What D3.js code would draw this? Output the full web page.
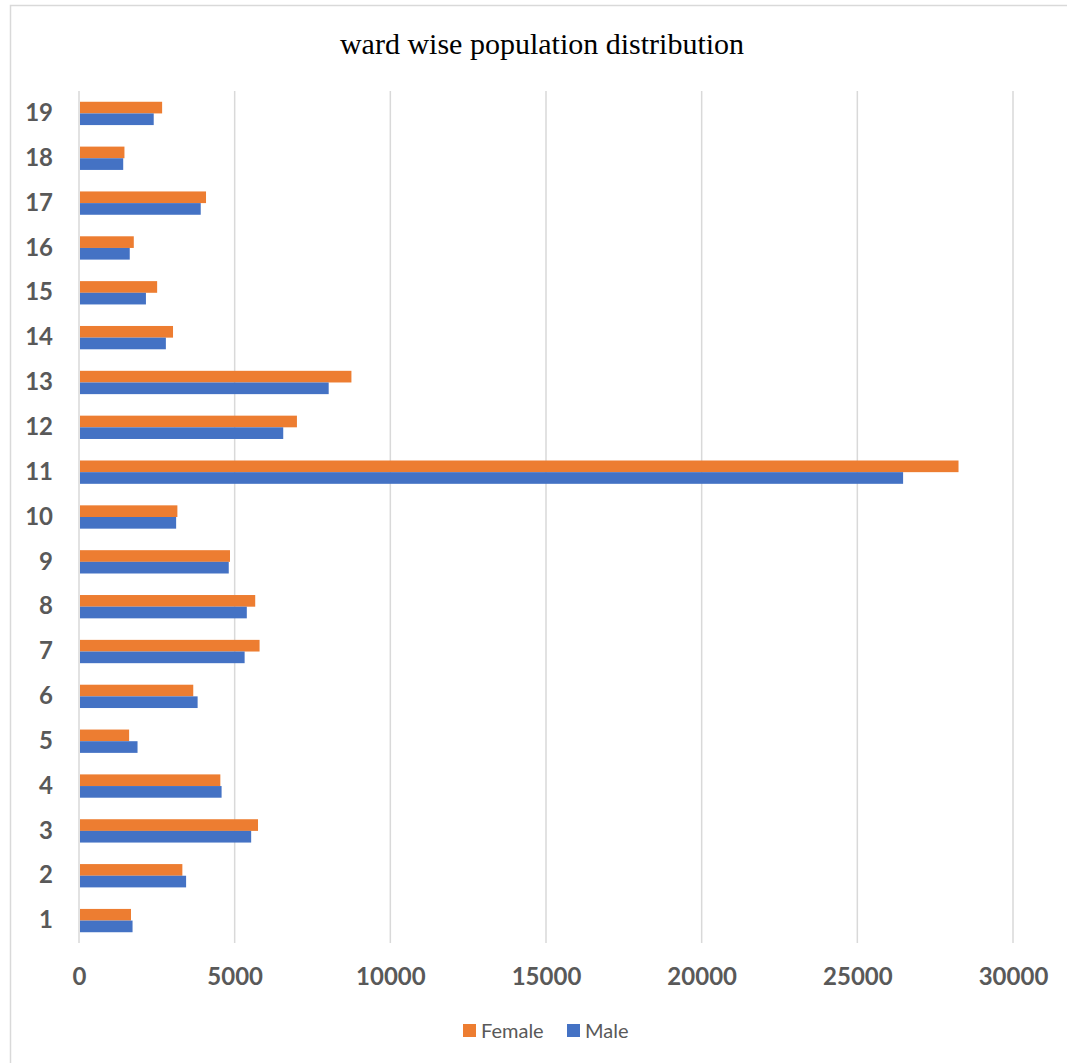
<!DOCTYPE html>
<html>
<head>
<meta charset="utf-8">
<script src="https://cdn.jsdelivr.net/npm/d3@7"></script>
<style>
  body { margin: 0; background: #fff; }
</style>
</head>
<body>
<div id="chart"></div>
<script>
// Data
const wards = ["1","2","3","4","5","6","7","8","9","10","11","12","13","14","15","16","17","18","19"];
const female = [1670, 3320, 5750, 4540, 1610, 3670, 5800, 5660, 4850, 3160, 28250, 7000, 8750, 3020, 2510, 1760, 4080, 1460, 2670];
const male   = [1720, 3440, 5530, 4580, 1880, 3810, 5320, 5390, 4810, 3120, 26470, 6560, 8020, 2790, 2150, 1630, 3910, 1420, 2400];
const xTicks = [0, 5000, 10000, 15000, 20000, 25000, 30000];
const seriesNames = ["Female", "Male"];
const colors = { Female: "#ed7d31", Male: "#4472c4" };

const width = 1067;
const height = 1063;
const marginTop = 91;
const marginBottom = 120;
const marginLeft = 79;
const marginRight = 54;

const x = d3.scaleLinear()
  .domain([0, 30000])
  .range([marginLeft, width - marginRight]);

// ward 19 at top, ward 1 at bottom
const y = d3.scaleBand()
  .domain(wards.slice().reverse())
  .range([marginTop, height - marginBottom])
  .paddingInner(0.48)
  .paddingOuter(0.24);

const sub = d3.scaleBand()
  .domain(seriesNames)
  .range([0, y.bandwidth()]);

const svg = d3.create("svg")
  .attr("width", width)
  .attr("height", height)
  .attr("viewBox", [0, 0, width, height]);

d3.select("#chart").append(() => svg.node());

// Chart border
svg.append("rect")
  .attr("x", 10.5).attr("y", 5.5)
  .attr("width", width + 10).attr("height", height + 10)
  .attr("fill", "#fff")
  .attr("stroke", "#d9d9d9")
  .attr("stroke-width", 1.5);

// Title
svg.append("text")
  .attr("x", 542)
  .attr("y", 54)
  .attr("text-anchor", "middle")
  .attr("font-family", "'Liberation Serif', 'Times New Roman', serif")
  .attr("font-size", 30)
  .attr("fill", "#000")
  .text("ward wise population distribution");

// Vertical gridlines
svg.append("g")
  .attr("stroke", "#d9d9d9")
  .attr("stroke-width", 1.5)
  .selectAll("line")
  .data(xTicks)
  .join("line")
  .attr("x1", d => x(d)).attr("x2", d => x(d))
  .attr("y1", marginTop).attr("y2", height - marginBottom);

// Bars
const rows = wards.map((w, i) => ({ ward: w, Female: female[i], Male: male[i] }));
svg.append("g")
  .selectAll("g")
  .data(rows)
  .join("g")
  .attr("transform", d => `translate(0,${y(d.ward)})`)
  .selectAll("rect")
  .data(d => seriesNames.map(k => ({ key: k, value: d[k] })))
  .join("rect")
  .attr("x", x(0) + 1)
  .attr("y", d => sub(d.key))
  .attr("width", d => x(d.value) - x(0) - 1)
  .attr("height", sub.bandwidth())
  .attr("fill", d => colors[d.key]);

// Y axis labels
svg.append("g")
  .attr("transform", `translate(${marginLeft - 26},0)`)
  .call(d3.axisLeft(y).tickSize(0).tickPadding(0))
  .call(g => g.select(".domain").remove())
  .call(g => g.selectAll("text")
    .attr("font-family", "Lato, 'Open Sans', sans-serif")
    .attr("font-weight", "bold")
    .attr("font-size", 24)
    .attr("fill", "#595959"));

// X axis labels
svg.append("g")
  .attr("transform", `translate(0,${height - marginBottom})`)
  .call(d3.axisBottom(x).tickValues(xTicks).tickSize(0).tickPadding(25).tickFormat(d3.format("d")))
  .call(g => g.select(".domain").remove())
  .call(g => g.selectAll("text")
    .attr("font-family", "Lato, 'Open Sans', sans-serif")
    .attr("font-weight", "bold")
    .attr("font-size", 24)
    .attr("fill", "#595959"));

// Legend
const legend = svg.append("g")
  .attr("font-family", "Lato, 'Open Sans', sans-serif")
  .attr("font-size", 20)
  .attr("fill", "#595959");
const legendX = [463, 567];
seriesNames.forEach((name, i) => {
  legend.append("rect")
    .attr("x", legendX[i]).attr("y", 1024)
    .attr("width", 13).attr("height", 13)
    .attr("fill", colors[name]);
  legend.append("text")
    .attr("x", legendX[i] + 18).attr("y", 1038)
    .text(name);
});
</script>
</body>
</html>
